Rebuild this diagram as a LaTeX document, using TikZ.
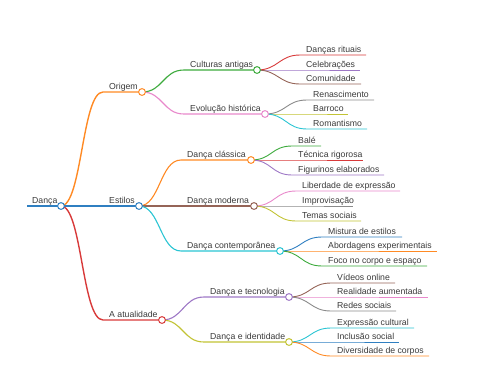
\documentclass[tikz,border=0pt]{standalone}
\usepackage{fontspec}
\setmainfont{Liberation Sans}
\definecolor{cblue}{HTML}{2F7FC1}
\definecolor{corange}{HTML}{FF8A24}
\definecolor{cgreen}{HTML}{3CAA3C}
\definecolor{cred}{HTML}{D83A3A}
\definecolor{cpurple}{HTML}{9E78C6}
\definecolor{cbrown}{HTML}{956457}
\definecolor{cpink}{HTML}{E888CB}
\definecolor{cgray}{HTML}{8A8A8A}
\definecolor{colive}{HTML}{C2C334}
\definecolor{ccyan}{HTML}{2AC4D3}
\definecolor{ctext}{HTML}{3A3A3A}
\tikzset{
  lbl/.style={inner sep=0pt, text=ctext, font=\fontsize{8.7}{10}\selectfont},
  dot/.style={circle, fill=white, line width=1pt, minimum size=6.8pt, inner sep=0pt},
  w1/.style={line width=1.4pt},
  w2/.style={line width=1.1pt},
  w3/.style={line width=0.9pt}
}
% #1 name, #2 parent coordinate, #3 x start, #4 y, #5 x end, #6 colour, #7 width style, #8 text
\newcommand{\mmitem}[8]{%
  \coordinate (#1s) at (#3,#4);
  \coordinate (#1e) at (#5,#4);
  \node[lbl, anchor=base west] (#1) at (#3+6,#4-3) {#8};
  \draw[draw=#6, #7] (#2) .. controls ([xshift=21pt]#2) and ([xshift=-21pt]#1s) .. (#1s) -- (#1e);
}
\begin{document}
\begin{tikzpicture}[x=1pt,y=-1pt]
\useasboundingbox (0,0) rectangle (480,384);
% root
\coordinate (rootS) at (27,206);
\coordinate (roote) at (61,206);
\node[lbl, anchor=base west] (root) at (32,203) {Dança};
\draw[draw=cblue, line width=1.7pt] (rootS) -- (roote);
% level 1
\mmitem{ori}{roote}{103}{92}{142}{corange}{w1}{Origem}
\mmitem{est}{roote}{103}{206}{139}{cblue}{w1}{Estilos}
\mmitem{atu}{roote}{103}{320}{162}{cred}{w1}{A atualidade}
% Origem
\mmitem{cul}{orie}{184}{70}{257}{cgreen}{w2}{Culturas antigas}
\mmitem{evo}{orie}{184}{114}{265}{cpink}{w2}{Evolução histórica}
\mmitem{rit}{cule}{300}{55}{366}{cred}{w3}{Danças rituais}
\mmitem{cel}{cule}{300}{70}{360}{cpurple}{w3}{Celebrações}
\mmitem{com}{cule}{300}{84}{361}{cbrown}{w3}{Comunidade}
\mmitem{ren}{evoe}{307}{100}{374}{cgray}{w3}{Renascimento}
\mmitem{bar}{evoe}{307}{114}{348}{colive}{w3}{Barroco}
\mmitem{rom}{evoe}{307}{129}{367}{ccyan}{w3}{Romantismo}
% Estilos
\mmitem{cla}{este}{181}{160}{251}{corange}{w2}{Dança clássica}
\mmitem{mod}{este}{181}{206}{254}{cbrown}{w2}{Dança moderna}
\mmitem{con}{este}{181}{251}{280}{ccyan}{w2}{Dança contemporânea}
\mmitem{bal}{clae}{292}{146}{321}{cgreen}{w3}{Balé}
\mmitem{tec}{clae}{292}{160}{363}{cred}{w3}{Técnica rigorosa}
\mmitem{fig}{clae}{292}{175}{384}{cpurple}{w3}{Figurinos elaborados}
\mmitem{lib}{mode}{296}{191}{400}{cpink}{w3}{Liberdade de expressão}
\mmitem{imp}{mode}{296}{206}{353}{cgray}{w3}{Improvisação}
\mmitem{tem}{mode}{296}{221}{361}{colive}{w3}{Temas sociais}
\mmitem{mis}{cone}{322}{237}{402}{cblue}{w3}{Mistura de estilos}
\mmitem{abo}{cone}{322}{251}{437}{corange}{w3}{Abordagens experimentais}
\mmitem{foc}{cone}{322}{266}{427}{cgreen}{w3}{Foco no corpo e espaço}
% A atualidade
\mmitem{dte}{atue}{204}{297}{289}{cpurple}{w2}{Dança e tecnologia}
\mmitem{did}{atue}{204}{342}{289}{colive}{w2}{Dança e identidade}
\mmitem{vid}{dtee}{331}{283}{395}{cbrown}{w3}{Vídeos online}
\mmitem{rea}{dtee}{331}{297}{428}{cpink}{w3}{Realidade aumentada}
\mmitem{red}{dtee}{331}{311}{396}{cgray}{w3}{Redes sociais}
\mmitem{exp}{dide}{331}{328}{414}{ccyan}{w3}{Expressão cultural}
\mmitem{inc}{dide}{331}{342}{399}{cblue}{w3}{Inclusão social}
\mmitem{div}{dide}{331}{356}{429}{corange}{w3}{Diversidade de corpos}
% circles
\node[dot, draw=cblue] at (roote) {};
\node[dot, draw=corange] at (orie) {};
\node[dot, draw=cblue] at (este) {};
\node[dot, draw=cred] at (atue) {};
\node[dot, draw=cgreen] at (cule) {};
\node[dot, draw=cpink] at (evoe) {};
\node[dot, draw=corange] at (clae) {};
\node[dot, draw=cbrown] at (mode) {};
\node[dot, draw=ccyan] at (cone) {};
\node[dot, draw=cpurple] at (dtee) {};
\node[dot, draw=colive] at (dide) {};
\end{tikzpicture}
\end{document}
